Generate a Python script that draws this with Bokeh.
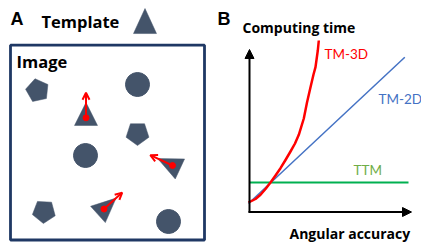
import numpy as np
from bokeh.plotting import figure
from bokeh.models import Range1d, Arrow, OpenHead, NormalHead
from bokeh.core.properties import value
from bokeh.embed import file_html
from bokeh.resources import INLINE

# ---------------- Panel A: template matching illustration ----------------
template_tri_cx = [144.5]
template_tri_cy = [24.7]
template_tri_ang = [-90.0]
template_tri_h = [25.0]
template_tri_b = [23.0]

tri_cx = [85.5, 172.0, 103.5]
tri_cy = [117.3, 165.0, 208.5]
tri_ang = [-90.0, 205.0, -42.0]
tri_h = [23.0, 24.5, 24.4]
tri_b = [23.0, 22.0, 22.0]
arrow_len = [25.0, 24.5, 24.5]

pent_cx = [37.0, 137.0, 43.5]
pent_cy = [90.0, 133.0, 211.0]
pent_ang = [114.0, 90.0, 93.0]
pent_r = [12.0, 12.0, 12.0]

circ_cx = [137.0, 85.0, 168.0]
circ_cy = [84.0, 155.0, 221.0]
circ_r = [12.0, 12.0, 12.0]

# ---------------- Panel B: computing time vs angular accuracy ----------------
tm3d_x = [248.0, 255.0, 260.0, 265.0, 270.0, 275.0, 280.0, 285.0, 290.0, 294.5, 298.3, 303.3, 306.5, 310.0, 313.0, 315.0, 317.3, 318.3]
tm3d_y = [202.0, 198.5, 194.3, 188.5, 182.0, 175.0, 167.7, 159.5, 151.0, 143.0, 134.3, 118.0, 102.0, 86.7, 74.0, 66.7, 50.0, 40.0]
tm2d_x = [248.0, 404.3]
tm2d_y = [203.0, 56.7]
ttm_x = [249.0, 408.0]
ttm_y = [182.0, 182.0]

SHAPE = "#44546A"
FRAME = "#1F3864"
RED = "#FF0000"
BLUE = "#4472C4"
GREEN = "#00B050"
GREEN_TXT = "#70AD47"


def triangle(cx, cy, ang, h, b):
    a = np.deg2rad(ang)
    d = np.array([np.cos(a), np.sin(a)])
    n = np.array([-d[1], d[0]])
    c = np.array([cx, cy])
    apex = c + d * (2 * h / 3)
    base = c - d * (h / 3)
    p1 = base + n * b / 2
    p2 = base - n * b / 2
    return [apex[0], p1[0], p2[0]], [apex[1], p1[1], p2[1]]


def pentagon(cx, cy, ang, r):
    angs = np.deg2rad(ang + 72.0 * np.arange(5))
    return list(cx + r * np.cos(angs)), list(cy + r * np.sin(angs))


p = figure(width=421, height=242, output_backend="svg", toolbar_location=None,
           x_range=Range1d(0, 421), y_range=Range1d(242, 0),
           min_border=0, min_border_left=0, min_border_right=0,
           min_border_top=0, min_border_bottom=0)
p.axis.visible = False
p.grid.visible = False
p.outline_line_color = None
p.background_fill_color = "white"
p.border_fill_color = "white"

# frame of the image
p.quad(left=[10], right=[204], top=[44.7], bottom=[239.5], fill_color=None,
       line_color=FRAME, line_width=2.8)

# shapes
xs, ys = [], []
for cx, cy, a, h, b in zip(template_tri_cx, template_tri_cy, template_tri_ang, template_tri_h, template_tri_b):
    x, y = triangle(cx, cy, a, h, b)
    xs.append(x); ys.append(y)
for cx, cy, a, h, b in zip(tri_cx, tri_cy, tri_ang, tri_h, tri_b):
    x, y = triangle(cx, cy, a, h, b)
    xs.append(x); ys.append(y)
for cx, cy, a, r in zip(pent_cx, pent_cy, pent_ang, pent_r):
    x, y = pentagon(cx, cy, a, r)
    xs.append(x); ys.append(y)
p.patches(xs=xs, ys=ys, fill_color=SHAPE, line_color=SHAPE, line_width=0.5)
p.circle(x=circ_cx, y=circ_cy, radius=circ_r, fill_color=SHAPE, line_color=SHAPE)

# orientation arrows
for cx, cy, a, L in zip(tri_cx, tri_cy, tri_ang, arrow_len):
    ar = np.deg2rad(a)
    p.add_layout(Arrow(end=OpenHead(size=7, line_color=RED, line_width=2),
                       x_start=cx, y_start=cy,
                       x_end=cx + L * np.cos(ar), y_end=cy + L * np.sin(ar),
                       line_color=RED, line_width=2))
p.scatter(x=tri_cx, y=tri_cy, size=6, fill_color=RED, line_color=RED)

# panel B curves
p.line(ttm_x, ttm_y, line_color=GREEN, line_width=1.8)
p.line(tm2d_x, tm2d_y, line_color=BLUE, line_width=1.5)
p.line(tm3d_x, tm3d_y, line_color=RED, line_width=2.5, line_join="round")

# axes of panel B
p.add_layout(Arrow(end=NormalHead(size=9, fill_color="black", line_color="black"),
                   x_start=249, y_start=212, x_end=249, y_end=49,
                   line_color="black", line_width=2))
p.add_layout(Arrow(end=NormalHead(size=9, fill_color="black", line_color="black"),
                   x_start=248, y_start=211.5, x_end=411, y_end=211.5,
                   line_color="black", line_width=2))

# texts (y = baseline position)
def label(x, y, t, size, color="black", bold=True, font="Open Sans"):
    p.text(x=[x], y=[y], text=[t], text_font=value(font), text_font_size=size,
           text_font_style="bold" if bold else "normal", text_color=color,
           text_align="left", text_baseline="alphabetic")

label(10, 18, "A", "18px", font="Liberation Sans")
label(217, 18.5, "B", "18px", font="Liberation Sans")
label(41, 21, "Template", "16.5px")
label(16, 61, "Image", "16.5px")
label(242, 26.5, "Computing time", "14px")
label(289, 232.5, "Angular accuracy", "14px")
label(324, 53, "TM-3D", "13.5px", color=RED, bold=False, font="Lato")
label(378, 98, "TM-2D", "13.5px", color=BLUE, bold=False, font="Lato")
label(353, 169, "TTM", "13.5px", color=GREEN_TXT, bold=False, font="Lato")

open("out.html", "w").write(file_html(p, INLINE))
